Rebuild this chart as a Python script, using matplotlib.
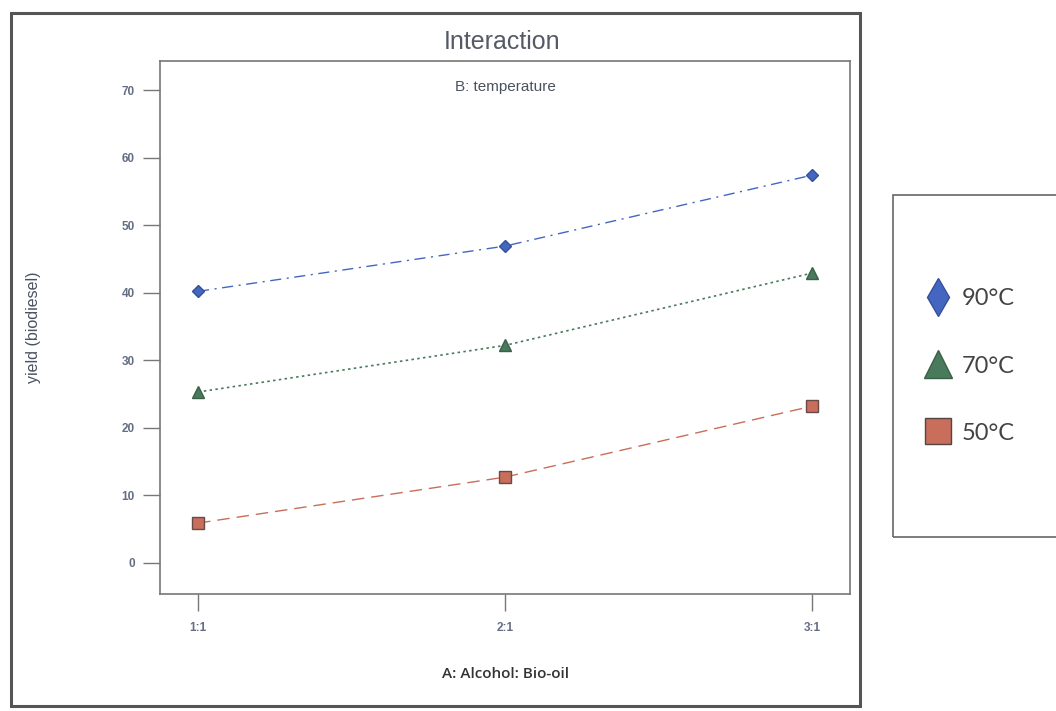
import matplotlib.pyplot as plt
from matplotlib.patches import Rectangle
from matplotlib.lines import Line2D

# data
ratios = ['1:1', '2:1', '3:1']
x_pos = [1, 2, 3]
temps = ['90°C', '70°C', '50°C']
yield_90 = [40.2, 46.9, 57.4]
yield_70 = [25.3, 32.2, 42.9]
yield_50 = [5.9, 12.7, 23.2]
y_ticks = [0, 10, 20, 30, 40, 50, 60, 70]

plt.rcParams['font.family'] = ['Liberation Sans', 'DejaVu Sans']

W, H = 1056, 711
fig = plt.figure(figsize=(W / 100, H / 100), dpi=100)
fig.patch.set_facecolor('white')

def fx(px):
    return px / W

def fy(py):
    return 1 - py / H

ax = fig.add_axes([fx(160), fy(594), fx(850) - fx(160), fy(61) - fy(594)])

tick_col = '#646d84'
blue, green, red = '#4466c0', '#4a7a5c', '#c86e5a'

ax.plot(x_pos, yield_90, color=blue, linestyle=(0, (8, 4, 1.5, 4)), linewidth=1.0,
        marker='D', markersize=6.5, markerfacecolor=blue, markeredgecolor='#33509a')
ax.plot(x_pos, yield_70, color=green, linestyle=(0, (1.5, 2)), linewidth=1.2,
        marker='^', markersize=9, markerfacecolor=green, markeredgecolor='#3a6048')
ax.plot(x_pos, yield_50, color=red, linestyle=(0, (9, 5)), linewidth=1.0,
        marker='s', markersize=8, markerfacecolor=red, markeredgecolor='#6a4a48')

ax.set_xlim(0.876, 3.124)
ax.set_ylim(-4.6, 74.3)
ax.set_xticks(x_pos)
ax.set_xticklabels(ratios)
ax.set_yticks(y_ticks)
ax.tick_params(axis='both', direction='out', length=12, width=1, color='#777777',
               labelsize=8.5, labelcolor=tick_col, pad=6)
ax.tick_params(axis='x', pad=8)
for lbl in ax.get_xticklabels() + ax.get_yticklabels():
    lbl.set_fontweight('bold')
for s in ax.spines.values():
    s.set_color('#777777')
    s.set_linewidth(1.2)

ax.text(0.5, 0.965, 'B: temperature', transform=ax.transAxes, ha='center', va='top',
        fontsize=11, color='#4a5260')
ax.set_ylabel('yield (biodiesel)', fontsize=11.5, color='#4a5260', labelpad=58)
fig.text(fx(505), fy(674), 'A: Alcohol: Bio-oil', ha='center', va='center',
         fontsize=11, family='Open Sans', weight='semibold', color='#333333')
fig.text(fx(502), fy(42), 'Interaction', ha='center', va='center',
         fontsize=18, color='#555a66')

# outer frame
fig.add_artist(Rectangle((fx(11), fy(706)), fx(860) - fx(11), fy(13) - fy(706),
                         transform=fig.transFigure, fill=False,
                         edgecolor='#555555', linewidth=2.2))

# legend box
fig.add_artist(Rectangle((fx(893), fy(537)), fx(1062) - fx(893), fy(195) - fy(537),
                         transform=fig.transFigure, fill=False,
                         edgecolor='#666666', linewidth=1.2))
handles = [
    Line2D([0], [0], linestyle='none', marker='d', markersize=19,
           markerfacecolor=blue, markeredgecolor='#33509a'),
    Line2D([0], [0], linestyle='none', marker='^', markersize=20,
           markerfacecolor=green, markeredgecolor='#3a6048'),
    Line2D([0], [0], linestyle='none', marker='s', markersize=19,
           markerfacecolor=red, markeredgecolor='#554444'),
]
fig.legend(handles, temps, loc='center left', bbox_to_anchor=(fx(904), fy(366)),
           frameon=False, prop={'family': 'Lato', 'size': 17},
           labelspacing=1.95, handletextpad=0.45, handlelength=1.1, labelcolor='#444444')

fig.savefig('out.png', dpi=100)
